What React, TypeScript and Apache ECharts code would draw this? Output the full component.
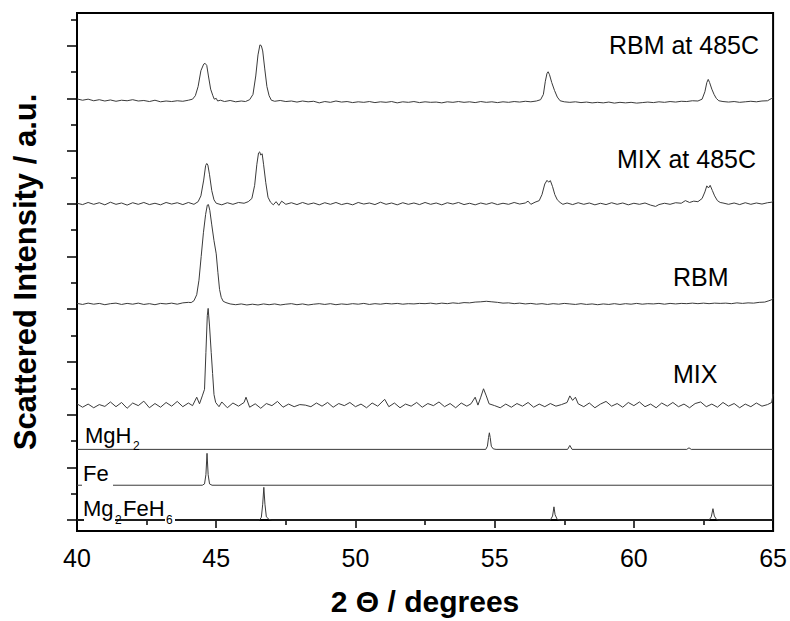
import React, { useEffect, useRef } from "react";
import * as echarts from "echarts";

// ---- axis settings ----
const xMin = 40;
const xMax = 65;
const xInterval = 5;
const yMin = -0.417;
const yMax = 19.24;
const yMajorTicks = [0, 2, 4, 6, 8, 10, 12, 14, 16, 18];
const yMinorTicks = [1, 3, 5, 7, 9, 11, 13, 15, 17, 19];

// ---- stacking offsets of each pattern (y units) ----
const offMg2FeH6 = 0;
const offFe = 1.32;
const offMgH2 = 2.68;
const offMix = 4.36;
const offRbm = 8.2;
const offMix485 = 12.0;
const offRbm485 = 15.85;

// ---- patterns: [2theta, intensity] ----
const mg2feh6: [number, number][] = [
  [40, 0], [46.55, 0], [46.62, 0.1], [46.67, 0.6], [46.71, 1.24], [46.75, 0.6], [46.8, 0.12], [46.9, 0.02], [47.0, 0],
  [57.0, 0], [57.08, 0.15], [57.13, 0.5], [57.17, 0.2], [57.25, 0.02], [57.35, 0],
  [62.7, 0], [62.78, 0.12], [62.84, 0.43], [62.89, 0.15], [62.97, 0.02], [63.05, 0], [65, 0],
];

const fe: [number, number][] = [
  [40, 0], [44.5, 0], [44.58, 0.05], [44.63, 0.4], [44.67, 1.21], [44.71, 0.4], [44.76, 0.05], [44.85, 0], [65, 0],
];

const mgh2: [number, number][] = [
  [40, 0], [54.68, 0], [54.74, 0.12], [54.78, 0.45], [54.81, 0.63], [54.84, 0.45], [54.88, 0.12], [54.95, 0.02], [55.05, 0],
  [57.62, 0], [57.7, 0.15], [57.78, 0], [61.9, 0], [61.98, 0.06], [62.06, 0], [65, 0],
];

const mix: [number, number][] = [
  [40.0, 0.05], [40.2, -0.08], [40.4, 0.04], [40.6, -0.1], [40.8, 0.02], [41.0, -0.05], [41.2, 0.12], [41.4, -0.06],
  [41.6, 0.1], [41.8, -0.12], [42.0, 0.08], [42.2, -0.02], [42.4, 0.15], [42.6, -0.1], [42.8, 0.06], [43.0, -0.08],
  [43.2, 0.1], [43.4, -0.04], [43.6, 0.14], [43.8, -0.06], [44.0, 0.08], [44.15, -0.02], [44.3, 0.3], [44.4, 0.05],
  [44.5, 0.35], [44.58, 0.6], [44.63, 2.0], [44.68, 3.4], [44.71, 3.67], [44.76, 3.0], [44.82, 2.0], [44.87, 1.2],
  [44.92, 0.4], [44.98, 0.1], [45.1, -0.06], [45.2, 0.12], [45.4, -0.1], [45.6, 0.08], [45.8, -0.04], [46.0, 0.1],
  [46.07, 0.3], [46.2, -0.08], [46.4, 0.05], [46.6, -0.12], [46.8, 0.06], [47.0, -0.02], [47.2, 0.14], [47.4, -0.08],
  [47.6, 0.04], [47.8, -0.06], [48.0, 0.02], [48.2, 0.0], [48.4, -0.06], [48.6, 0.08], [48.8, -0.04], [49.0, 0.1],
  [49.2, -0.08], [49.4, 0.06], [49.6, -0.02], [49.8, 0.1], [50.0, -0.06], [50.2, 0.04], [50.4, -0.1], [50.6, 0.08],
  [50.8, -0.04], [51.05, 0.22], [51.2, -0.06], [51.4, 0.08], [51.6, -0.1], [51.8, 0.04], [52.0, -0.04], [52.2, 0.1],
  [52.4, -0.08], [52.6, 0.06], [52.8, -0.02], [53.0, 0.12], [53.2, -0.06], [53.4, 0.06], [53.6, -0.1], [53.8, 0.08],
  [54.0, -0.04], [54.15, 0.05], [54.3, 0.3], [54.4, 0.0], [54.5, 0.3], [54.6, 0.62], [54.7, 0.35], [54.8, 0.05],
  [55.0, -0.02], [55.2, -0.1], [55.4, 0.04], [55.6, -0.08], [55.8, 0.06], [56.0, -0.04], [56.2, 0.1], [56.4, -0.08],
  [56.6, 0.04], [56.8, -0.06], [57.0, 0.06], [57.2, -0.04], [57.4, 0.02], [57.6, 0.1], [57.7, 0.35], [57.8, 0.18],
  [57.9, 0.3], [58.0, 0.05], [58.2, -0.06], [58.4, 0.08], [58.6, -0.1], [58.8, 0.04], [59.0, 0.14], [59.2, -0.04],
  [59.4, 0.06], [59.6, -0.08], [59.8, 0.1], [60.0, -0.02], [60.2, 0.12], [60.4, -0.06], [60.6, 0.04], [60.8, -0.1],
  [61.0, 0.08], [61.2, -0.04], [61.4, 0.1], [61.6, -0.06], [61.8, 0.04], [62.0, -0.1], [62.2, 0.06], [62.4, 0.12],
  [62.6, -0.06], [62.8, 0.04], [63.0, -0.08], [63.2, 0.1], [63.4, -0.04], [63.6, 0.06], [63.8, -0.1], [64.0, 0.04],
  [64.2, -0.06], [64.4, 0.08], [64.6, -0.04], [64.8, 0.02], [64.95, 0.1], [65.0, 0.42],
];

const rbm: [number, number][] = [
  [40.0, 0.02], [40.2, -0.02], [40.4, 0.03], [40.6, -0.01], [40.8, 0.02], [41.0, -0.03], [41.2, 0.01], [41.4, 0.03],
  [41.6, -0.02], [41.8, 0.02], [42.0, -0.01], [42.2, 0.03], [42.4, -0.02], [42.6, 0.01], [42.8, -0.03], [43.0, 0.02],
  [43.2, 0.0], [43.4, 0.03], [43.6, -0.01], [43.8, 0.04], [44.0, 0.06], [44.1, 0.05], [44.2, 0.12], [44.3, 0.35],
  [44.38, 0.9], [44.46, 1.8], [44.54, 2.7], [44.62, 3.4], [44.68, 3.75], [44.72, 3.77], [44.77, 3.55], [44.84, 3.0],
  [44.92, 2.4], [45.0, 1.9], [45.06, 1.2], [45.12, 0.55], [45.18, 0.25], [45.25, 0.1], [45.35, 0.05], [45.5, 0.0],
  [45.7, -0.03], [45.9, 0.0], [46.1, -0.04], [46.3, -0.01], [46.5, -0.04], [46.7, 0.0], [46.9, -0.03], [47.1, 0.0],
  [47.3, -0.04], [47.5, -0.01], [47.7, 0.01], [47.9, -0.03], [48.1, 0.0], [48.3, -0.04], [48.5, -0.01], [48.7, 0.01],
  [48.9, -0.02], [49.1, 0.01], [49.3, -0.03], [49.5, 0.0], [49.7, -0.02], [49.9, 0.01], [50.1, -0.01], [50.3, 0.02],
  [50.5, -0.02], [50.7, 0.01], [50.9, -0.01], [51.1, 0.02], [51.3, 0.0], [51.5, 0.02], [51.7, -0.01], [51.9, 0.01],
  [52.1, 0.0], [52.3, 0.02], [52.5, 0.01], [52.7, 0.03], [52.9, 0.0], [53.1, 0.03], [53.3, 0.01], [53.5, 0.04],
  [53.7, 0.02], [53.9, 0.05], [54.1, 0.04], [54.3, 0.07], [54.5, 0.08], [54.7, 0.1], [54.9, 0.08], [55.1, 0.06],
  [55.3, 0.03], [55.5, 0.04], [55.7, 0.01], [55.9, 0.03], [56.1, 0.0], [56.3, 0.02], [56.5, -0.01], [56.7, 0.01],
  [56.9, -0.02], [57.1, 0.01], [57.3, -0.01], [57.5, 0.02], [57.7, 0.0], [57.9, -0.02], [58.1, 0.01], [58.3, -0.02],
  [58.5, 0.0], [58.7, -0.03], [58.9, 0.0], [59.1, -0.02], [59.3, 0.01], [59.5, -0.02], [59.7, 0.01], [59.9, -0.01],
  [60.1, 0.02], [60.3, -0.01], [60.5, 0.01], [60.7, 0.0], [60.9, 0.02], [61.1, -0.01], [61.3, 0.02], [61.5, 0.0],
  [61.7, 0.02], [61.9, 0.01], [62.1, 0.03], [62.3, 0.01], [62.5, 0.03], [62.7, 0.01], [62.9, 0.03], [63.1, 0.02],
  [63.3, 0.03], [63.5, 0.01], [63.7, 0.04], [63.9, 0.02], [64.1, 0.04], [64.3, 0.03], [64.5, 0.06], [64.7, 0.07],
  [64.85, 0.12], [64.95, 0.16], [65.0, 0.22],
];

const mix485: [number, number][] = [
  [40.0, 0.02], [40.2, -0.03], [40.4, 0.05], [40.6, -0.02], [40.8, 0.04], [41.0, -0.04], [41.2, 0.06], [41.4, -0.02],
  [41.6, 0.03], [41.8, -0.05], [42.0, 0.04], [42.2, -0.02], [42.4, 0.05], [42.6, -0.03], [42.8, 0.02], [43.0, -0.04],
  [43.2, 0.05], [43.4, -0.01], [43.6, 0.04], [43.8, -0.03], [44.0, 0.05], [44.2, -0.02], [44.35, 0.08], [44.45, 0.3],
  [44.55, 0.9], [44.62, 1.45], [44.66, 1.53], [44.7, 1.47], [44.76, 1.1], [44.84, 0.5], [44.92, 0.15], [45.0, 0.02],
  [45.2, -0.04], [45.4, 0.04], [45.6, -0.02], [45.8, 0.05], [46.0, 0.02], [46.15, 0.08], [46.28, 0.2], [46.38, 0.7],
  [46.46, 1.5], [46.52, 1.93], [46.56, 1.97], [46.6, 1.85], [46.65, 1.9], [46.7, 1.5], [46.78, 0.8], [46.86, 0.25],
  [46.95, 0.06], [47.05, -0.04], [47.15, 0.08], [47.25, -0.06], [47.35, 0.1], [47.5, -0.02], [47.7, 0.04], [47.9, -0.03],
  [48.1, 0.05], [48.3, -0.02], [48.5, 0.03], [48.7, -0.04], [48.9, 0.04], [49.1, -0.02], [49.3, 0.05], [49.5, -0.03],
  [49.7, 0.02], [49.9, -0.04], [50.1, 0.05], [50.3, -0.01], [50.5, 0.03], [50.7, -0.03], [50.9, 0.06], [51.1, -0.02],
  [51.3, 0.03], [51.5, -0.04], [51.7, 0.04], [51.9, -0.02], [52.1, 0.03], [52.3, -0.03], [52.5, 0.05], [52.7, -0.02],
  [52.9, 0.03], [53.1, -0.04], [53.3, 0.04], [53.5, -0.01], [53.7, 0.05], [53.9, -0.03], [54.1, 0.02], [54.3, -0.04],
  [54.5, 0.03], [54.7, -0.02], [54.9, 0.04], [55.1, -0.03], [55.3, 0.02], [55.5, -0.02], [55.7, 0.05], [55.9, -0.01],
  [56.1, 0.03], [56.2, 0.1], [56.3, -0.02], [56.45, 0.06], [56.6, 0.12], [56.7, 0.35], [56.8, 0.75], [56.88, 0.89],
  [56.94, 0.82], [57.0, 0.88], [57.08, 0.65], [57.16, 0.35], [57.25, 0.15], [57.35, 0.05], [57.45, -0.02], [57.6, 0.03],
  [57.8, -0.03], [58.0, 0.04], [58.2, -0.02], [58.4, 0.03], [58.6, -0.04], [58.8, 0.02], [59.0, -0.03], [59.2, 0.04],
  [59.4, -0.02], [59.6, 0.03], [59.8, -0.04], [60.0, 0.02], [60.2, -0.02], [60.4, 0.03], [60.6, -0.05], [60.78, -0.1],
  [60.9, -0.03], [61.1, 0.02], [61.3, -0.02], [61.5, 0.04], [61.7, 0.02], [61.85, 0.12], [62.0, 0.05], [62.15, 0.1],
  [62.3, 0.08], [62.45, 0.2], [62.55, 0.45], [62.62, 0.68], [62.68, 0.6], [62.74, 0.7], [62.82, 0.5], [62.9, 0.3],
  [63.0, 0.12], [63.1, 0.05], [63.2, 0.03], [63.4, -0.02], [63.6, 0.03], [63.8, -0.03], [64.0, 0.04], [64.2, -0.02],
  [64.4, 0.03], [64.6, -0.01], [64.8, 0.04], [64.95, 0.06], [65.0, 0.12],
];

const rbm485: [number, number][] = [
  [40.0, 0.13], [40.2, 0.08], [40.4, 0.12], [40.6, 0.06], [40.8, 0.1], [41.0, 0.05], [41.2, 0.09], [41.4, 0.04],
  [41.6, 0.08], [41.8, 0.06], [42.0, 0.1], [42.2, 0.05], [42.4, 0.07], [42.6, 0.03], [42.8, 0.08], [43.0, 0.02],
  [43.2, 0.05], [43.4, 0.03], [43.6, 0.06], [43.8, 0.04], [44.0, 0.08], [44.15, 0.12], [44.25, 0.25], [44.35, 0.6],
  [44.45, 1.2], [44.55, 1.45], [44.6, 1.48], [44.66, 1.4], [44.72, 1.0], [44.8, 0.5], [44.88, 0.25], [44.93, 0.12],
  [45.0, 0.15], [45.05, 0.05], [45.15, 0.08], [45.3, 0.03], [45.5, 0.07], [45.7, 0.02], [45.9, 0.05], [46.05, 0.03],
  [46.2, 0.1], [46.32, 0.3], [46.42, 1.0], [46.5, 1.8], [46.57, 2.18], [46.62, 2.15], [46.67, 1.95], [46.74, 1.3],
  [46.82, 0.6], [46.9, 0.25], [46.98, 0.08], [47.1, 0.04], [47.3, 0.07], [47.5, 0.03], [47.7, 0.05], [47.9, 0.01],
  [48.1, 0.05], [48.3, 0.02], [48.5, 0.04], [48.7, -0.02], [48.9, 0.03], [49.1, 0.0], [49.3, 0.05], [49.5, 0.01],
  [49.7, 0.03], [49.9, -0.01], [50.1, 0.02], [50.3, 0.0], [50.5, 0.03], [50.7, -0.01], [50.9, 0.02], [51.1, 0.0],
  [51.3, 0.03], [51.5, -0.02], [51.7, 0.02], [51.9, 0.0], [52.1, 0.03], [52.3, -0.01], [52.5, 0.02], [52.7, 0.0],
  [52.9, 0.01], [53.1, -0.02], [53.3, 0.02], [53.5, 0.0], [53.7, 0.03], [53.9, 0.0], [54.1, 0.02], [54.3, -0.01],
  [54.5, 0.03], [54.7, 0.0], [54.9, 0.02], [55.1, -0.01], [55.3, 0.02], [55.5, 0.0], [55.7, 0.03], [55.9, 0.01],
  [56.1, 0.04], [56.3, 0.02], [56.5, 0.05], [56.65, 0.1], [56.75, 0.3], [56.82, 0.8], [56.88, 1.1], [56.92, 1.16],
  [56.97, 1.05], [57.05, 0.75], [57.15, 0.45], [57.25, 0.2], [57.35, 0.06], [57.5, 0.02], [57.7, 0.0], [57.9, 0.02],
  [58.1, -0.01], [58.3, 0.01], [58.5, -0.02], [58.7, 0.0], [58.9, -0.02], [59.1, 0.01], [59.3, -0.03], [59.5, 0.0],
  [59.7, -0.02], [59.9, 0.0], [60.1, -0.03], [60.3, -0.01], [60.5, 0.01], [60.7, -0.01], [60.9, 0.02], [61.1, 0.0],
  [61.3, 0.03], [61.5, 0.01], [61.7, 0.04], [61.9, 0.03], [62.1, 0.06], [62.3, 0.05], [62.45, 0.12], [62.55, 0.4],
  [62.62, 0.75], [62.67, 0.87], [62.72, 0.75], [62.8, 0.5], [62.88, 0.3], [62.96, 0.15], [63.05, 0.06], [63.2, 0.03],
  [63.4, 0.01], [63.6, 0.03], [63.8, 0.0], [64.0, 0.02], [64.2, 0.04], [64.4, 0.02], [64.6, 0.05], [64.8, 0.06],
  [64.95, 0.15], [65.0, 0.18],
];

const FONT = "'Liberation Sans', Arial, sans-serif";

function shifted(pts: [number, number][], off: number) {
  return pts.map(([x, y]) => [x, y + off]);
}

function lineSeries(name: string, pts: [number, number][], off: number) {
  return {
    type: "line",
    name,
    data: shifted(pts, off),
    showSymbol: false,
    symbol: "none",
    silent: true,
    lineStyle: { color: "#3a3a3a", width: 1 },
    z: 3,
  };
}

function label(text: string, x: number, y: number, size: number, align = "left") {
  return {
    type: "text",
    x,
    y,
    z: 100,
    silent: true,
    style: { text, fontSize: size, fontFamily: FONT, fill: "#000", align, verticalAlign: "middle" },
  };
}

export default function App() {
  const ref = useRef<HTMLDivElement>(null);
  useEffect(() => {
    if (!ref.current) return;
    const chart = echarts.init(ref.current, undefined, { renderer: "svg" });
    const option: any = {
      animation: false,
      backgroundColor: "#fff",
      grid: { left: 77, right: 14, top: 13, bottom: 90, show: true, borderColor: "#000", borderWidth: 2, backgroundColor: "transparent" },
      xAxis: {
        type: "value",
        min: xMin,
        max: xMax,
        interval: xInterval,
        axisLine: { show: true, lineStyle: { color: "#000", width: 2 } },
        axisTick: { show: true, inside: false, length: 8, lineStyle: { color: "#000", width: 1.5 } },
        minorTick: { show: true, splitNumber: 2, length: 5, lineStyle: { color: "#000", width: 1.5 } },
        axisLabel: { fontSize: 25, color: "#000", fontFamily: FONT, margin: 14 },
        splitLine: { show: false },
        minorSplitLine: { show: false },
        name: "2 Θ / degrees",
        nameLocation: "middle",
        nameGap: 55,
        nameTextStyle: { fontSize: 30, fontWeight: "bold", color: "#000", fontFamily: FONT },
      },
      yAxis: [
        {
          type: "value",
          position: "left",
          min: yMin,
          max: yMax,
          axisLine: { show: true, lineStyle: { color: "#000", width: 2 } },
          axisTick: { show: true, inside: false, length: 10, customValues: yMajorTicks, lineStyle: { color: "#000", width: 1.5 } },
          axisLabel: { show: false },
          splitLine: { show: false },
          name: "Scattered Intensity / a.u.",
          nameLocation: "middle",
          nameGap: 36,
          nameTextStyle: { fontSize: 31, fontWeight: "bold", color: "#000", fontFamily: FONT },
        },
        {
          type: "value",
          position: "left",
          min: yMin,
          max: yMax,
          axisLine: { show: false },
          axisTick: { show: true, inside: false, length: 6, customValues: yMinorTicks, lineStyle: { color: "#000", width: 1.5 } },
          axisLabel: { show: false },
          splitLine: { show: false },
        },
      ],
      series: [
        lineSeries("Mg2FeH6", mg2feh6, offMg2FeH6),
        lineSeries("Fe", fe, offFe),
        lineSeries("MgH2", mgh2, offMgH2),
        lineSeries("MIX", mix, offMix),
        lineSeries("RBM", rbm, offRbm),
        lineSeries("MIX at 485C", mix485, offMix485),
        lineSeries("RBM at 485C", rbm485, offRbm485),
      ],
      graphic: [
        label("RBM at 485C", 759, 45, 25, "right"),
        label("MIX at 485C", 756, 159, 25, "right"),
        label("RBM", 673, 277, 25),
        label("MIX", 673, 374, 25),
        { type: "rect", z: 99, silent: true, shape: { x: 82, y: 482, width: 31, height: 6 }, style: { fill: "#fff" } },
        { type: "rect", z: 99, silent: true, shape: { x: 84, y: 517, width: 31, height: 6 }, style: { fill: "#fff" } },
        { type: "rect", z: 99, silent: true, shape: { x: 165, y: 517, width: 10, height: 6 }, style: { fill: "#fff" } },
        label("MgH", 85, 435, 22),
        label("2", 133, 446, 12),
        label("Fe", 83, 473, 22),
        label("Mg", 83, 508, 22),
        label("2", 115, 520, 12),
        label("FeH", 123, 508, 22),
        label("6", 166, 520, 12),
      ],
    };
    chart.setOption(option);
    return () => chart.dispose();
  }, []);
  return <div ref={ref} style={{ width: 790, height: 621, position: "absolute", left: 0, top: 0 }} />;
}
